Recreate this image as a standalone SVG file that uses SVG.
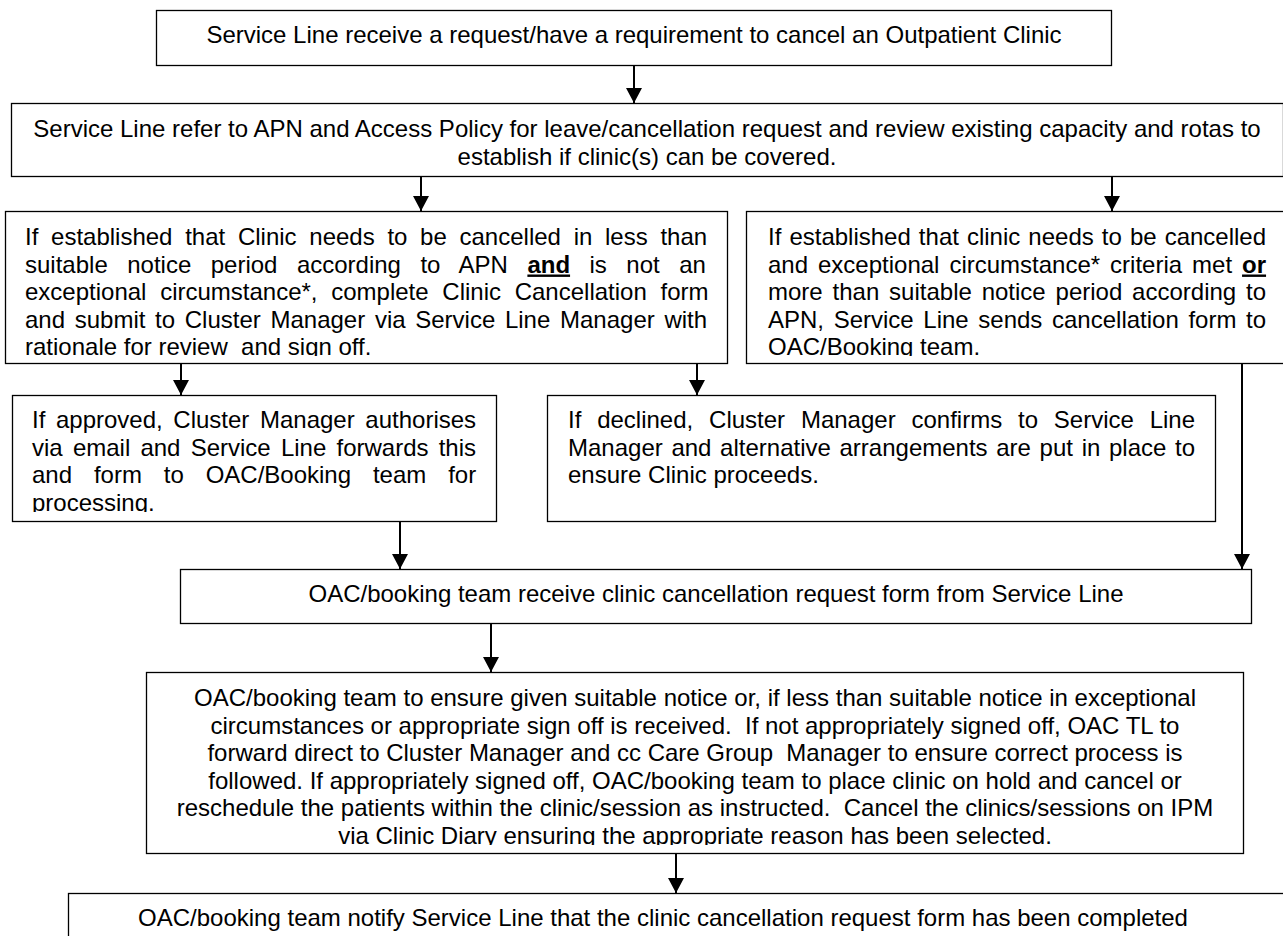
<svg xmlns="http://www.w3.org/2000/svg" width="1283" height="936" viewBox="0 0 1283 936">
<style>
.box{fill:#fff;stroke:#000;stroke-width:1.3}
text{font-family:"Liberation Sans",Arial,Helvetica,sans-serif;font-size:24px;fill:#000}
.c{text-anchor:middle}
.b{font-weight:bold;text-decoration:underline}
.conn line{stroke:#000;stroke-width:2;marker-end:url(#ah)}
</style>
<defs>
<marker id="ah" markerUnits="userSpaceOnUse" markerWidth="15" markerHeight="16" refX="15" refY="8" orient="auto" viewBox="0 0 15 16"><path d="M0,0 L15,8 L0,16 z" fill="#000"/></marker>
<clipPath id="clip3"><rect x="0" y="200" width="740" height="156"/></clipPath>
<clipPath id="clip4"><rect x="740" y="200" width="543" height="156"/></clipPath>
<clipPath id="clip5"><rect x="0" y="390" width="520" height="122"/></clipPath>
<clipPath id="clip8"><rect x="140" y="665" width="1143" height="180"/></clipPath>
</defs>
<rect x="0" y="0" width="1283" height="936" fill="#fff"/>

<g id="node1">
<rect class="box" x="156.5" y="10.5" width="955" height="55"/>
<text class="c" x="634" y="43">Service Line receive a request/have a requirement to cancel an Outpatient Clinic</text>
</g>

<g id="node2">
<rect class="box" x="11.5" y="103.5" width="1272" height="73"/>
<text class="c" x="647" y="137">Service Line refer to APN and Access Policy for leave/cancellation request and review existing capacity and rotas to</text>
<text class="c" x="647" y="164.5">establish if clinic(s) can be covered.</text>
</g>

<g id="node3">
<rect class="box" x="5.5" y="211.5" width="722" height="152"/>
<g clip-path="url(#clip3)">
<text x="25" y="245" word-spacing="6.04">If established that Clinic needs to be cancelled in less than</text>
<text x="25" y="272.5" word-spacing="12.8">suitable notice period according to APN <tspan class="b">and</tspan> is not an</text>
<text x="25" y="300" word-spacing="7.04">exceptional circumstance*, complete Clinic Cancellation form</text>
<text x="25" y="327.5" word-spacing="3.01">and submit to Cluster Manager via Service Line Manager with</text>
<text x="25" y="355" xml:space="preserve">rationale for review  and sign off.</text>
</g>
</g>

<g id="node4">
<rect class="box" x="746.5" y="211.5" width="545" height="152"/>
<g clip-path="url(#clip4)">
<text x="768" y="245" word-spacing="1.39">If established that clinic needs to be cancelled</text>
<text x="768" y="272.5" word-spacing="3.3">and exceptional circumstance* criteria met <tspan class="b">or</tspan></text>
<text x="768" y="300" word-spacing="3.18">more than suitable notice period according to</text>
<text x="768" y="327.5" word-spacing="2.97">APN, Service Line sends cancellation form to</text>
<text x="768" y="355">OAC/Booking team.</text>
</g>
</g>

<g id="node5">
<rect class="box" x="12.5" y="395.5" width="484" height="126"/>
<g clip-path="url(#clip5)">
<text x="32" y="428" word-spacing="3.96">If approved, Cluster Manager authorises</text>
<text x="32" y="455.5" word-spacing="3.53">via email and Service Line forwards this</text>
<text x="32" y="483" word-spacing="15.2">and form to OAC/Booking team for</text>
<text x="32" y="510.5">processing.</text>
</g>
</g>

<g id="node6">
<rect class="box" x="547.5" y="395.5" width="668" height="126"/>
<text x="568" y="428" word-spacing="9.16">If declined, Cluster Manager confirms to Service Line</text>
<text x="568" y="455.5" word-spacing="2">Manager and alternative arrangements are put in place to</text>
<text x="568" y="483">ensure Clinic proceeds.</text>
</g>

<g id="node7">
<rect class="box" x="180.5" y="569.5" width="1071" height="54"/>
<text class="c" x="716" y="602">OAC/booking team receive clinic cancellation request form from Service Line</text>
</g>

<g id="node8">
<rect class="box" x="146.5" y="672.5" width="1097" height="181"/>
<g clip-path="url(#clip8)">
<text class="c" x="695" y="706" xml:space="preserve">OAC/booking team to ensure given suitable notice or, if less than suitable notice in exceptional</text>
<text class="c" x="695" y="733.5" xml:space="preserve">circumstances or appropriate sign off is received.  If not appropriately signed off, OAC TL to</text>
<text class="c" x="695" y="761" xml:space="preserve">forward direct to Cluster Manager and cc Care Group  Manager to ensure correct process is</text>
<text class="c" x="695" y="788.5" xml:space="preserve">followed. If appropriately signed off, OAC/booking team to place clinic on hold and cancel or</text>
<text class="c" x="695" y="816" xml:space="preserve">reschedule the patients within the clinic/session as instructed.  Cancel the clinics/sessions on IPM</text>
<text class="c" x="695" y="843.5" xml:space="preserve">via Clinic Diary ensuring the appropriate reason has been selected.</text>
</g>
</g>

<g id="node9">
<rect class="box" x="68.5" y="893.5" width="1230" height="60"/>
<text class="c" x="663" y="926">OAC/booking team notify Service Line that the clinic cancellation request form has been completed</text>
</g>

<g id="connectors" class="conn">
<line x1="634" y1="66" x2="634" y2="103"/>
<line x1="421" y1="177" x2="421" y2="211"/>
<line x1="1112" y1="177" x2="1112" y2="211"/>
<line x1="181" y1="364" x2="181" y2="395"/>
<line x1="697" y1="364" x2="697" y2="395"/>
<line x1="400" y1="522" x2="400" y2="569"/>
<line x1="1242" y1="364" x2="1242" y2="569"/>
<line x1="491" y1="624" x2="491" y2="672"/>
<line x1="676" y1="854" x2="676" y2="893"/>
</g>
</svg>
